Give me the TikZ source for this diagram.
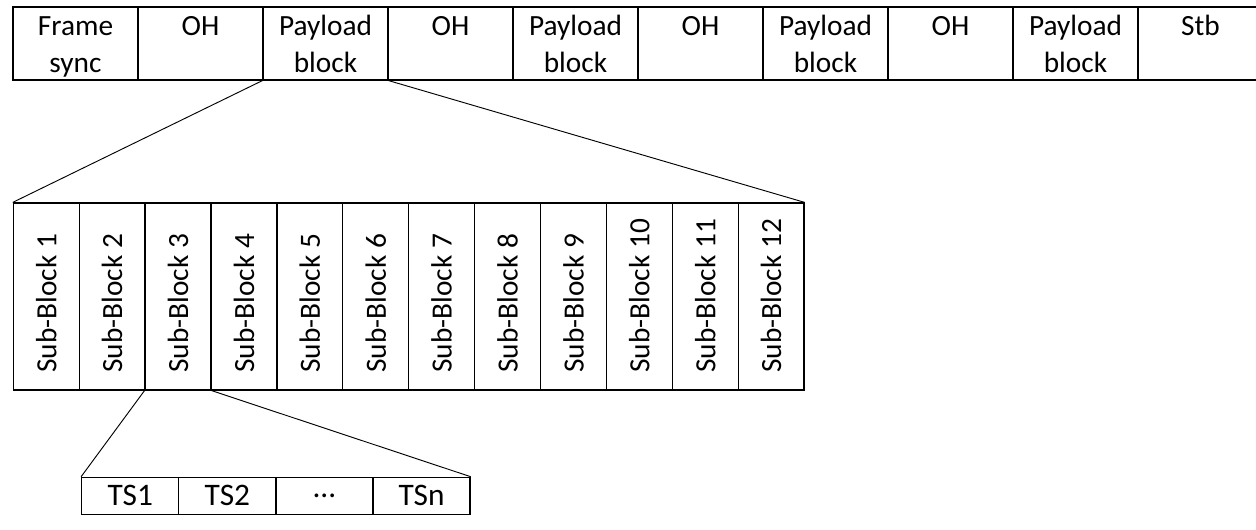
\documentclass[tikz,border=0pt]{standalone}
\usepackage{fontspec}
\usepackage{graphicx}
\setmainfont{Carlito}
\usetikzlibrary{positioning}

% two text lines at fixed places in a frame cell
\newcommand{\cellpair}[2]{\rule{0pt}{21pt}#1\\#2\rule[-6pt]{0pt}{6pt}}

\tikzset{
  framecell/.style={draw, line width=0.9pt, minimum width=93.75pt, minimum height=54.75pt,
    inner sep=0pt, align=center, font=\fontsize{22}{27.75}\selectfont},
  subcell/.style={draw, line width=0.9pt, minimum width=49.4pt, minimum height=140.25pt,
    inner sep=0pt, font=\fontsize{22}{26}\selectfont},
  tscell/.style={draw, line width=0.9pt, minimum width=72.8pt, minimum height=27.75pt,
    inner sep=0pt, font=\fontsize{23.5}{28}\selectfont},
  zoomline/.style={line width=0.7pt}
}

\begin{document}
\begin{tikzpicture}[x=0.75pt, y=-0.75pt]
  \useasboundingbox (0,0) rectangle (1256,529);

  % frame row
  \foreach \ta/\tb [count=\i] in {Frame/sync, OH/{}, Payload/block, OH/{},
      Payload/block, OH/{}, Payload/block, OH/{}, Payload/block, Stb/{}}
    \node[framecell] (frm\i) at ({13+125*(\i-0.5)}, 43.5) {\cellpair{\ta}{\tb}};

  % sub-blocks of one payload block
  \foreach \i in {1,...,12}
    \node[subcell] (sb\i) at ({13.3+65.9*(\i-0.5)}, 296.5)
      {\rotatebox{90}{\makebox[114pt][l]{Sub-Block \i}}};

  % time slots of one sub-block
  \foreach \txt [count=\i] in {TS1, TS2, \ldots, TSn}
    \node[tscell] (ts\i) at ({81.7+97.1*(\i-0.5)}, 495.8) {\txt};

  % zoom lines (sub-block nodes are unrotated boxes)
  \draw[zoomline] (frm3.south west) -- (sb1.north west);
  \draw[zoomline] (frm3.south east) -- (sb12.north east);
  \draw[zoomline] (sb3.south west) -- (ts1.north west);
  \draw[zoomline] (sb3.south east) -- (ts4.north east);
\end{tikzpicture}
\end{document}
